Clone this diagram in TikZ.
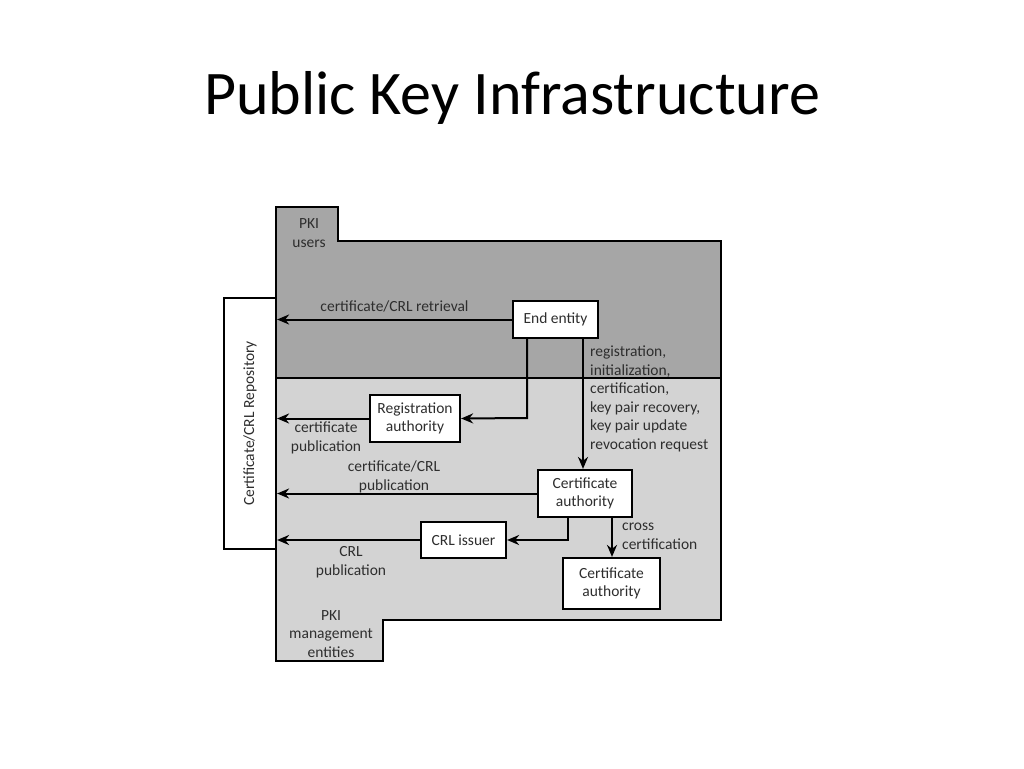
\documentclass[tikz,border=0pt]{standalone}
\usepackage{fontspec}
\setmainfont{Carlito}
\usetikzlibrary{arrows.meta}
\definecolor{darkreg}{HTML}{A6A6A6}
\definecolor{lightreg}{HTML}{D3D3D3}
\definecolor{txt}{HTML}{2E2E2E}
\begin{document}
\begin{tikzpicture}[x=1pt,y=-1pt,
  line/.style={line width=2.2pt,draw=black},
  conn/.style={line width=2pt,-{Stealth[length=12pt,width=10pt]}},
  entity/.style={draw=black,line width=2.2pt,fill=white,inner sep=0pt,align=center,font=\fontsize{15.5}{18.5}\selectfont,text=txt},
  lbl/.style={font=\fontsize{15.5}{18.5}\selectfont,text=txt,inner sep=0pt}]
\useasboundingbox (0,0) rectangle (1024,768);
\node[font=\fontsize{62}{66}\selectfont,text=black] (title) at (512,98) {Public Key Infrastructure};
% regions
\path[fill=lightreg,line,line join=miter] (276,378) -- (721,378) -- (721,620) -- (383,620) -- (383,661) -- (276,661) -- cycle;
\path[fill=darkreg,line,line join=miter] (276,207) -- (338,207) -- (338,241) -- (721,241) -- (721,378) -- (276,378) -- cycle;
% repository
\node[entity,minimum width=52pt,minimum height=251pt] (repo) at (250,423.5) {};
\node[lbl,rotate=90] (repotxt) at (250,423.5) {Certificate/CRL Repository};
% entities
\node[entity,minimum width=85pt,minimum height=37pt] (ee) at (555.5,319.5) {End entity};
\node[entity,minimum width=90pt,minimum height=47pt] (ra) at (415,418.5) {Registration\\authority};
\node[entity,minimum width=94pt,minimum height=47pt] (ca) at (585,493.5) {Certificate\\authority};
\node[entity,minimum width=85pt,minimum height=36pt] (crl) at (463.5,540) {CRL issuer};
\node[entity,minimum width=97pt,minimum height=51pt] (ca2) at (611.5,583.5) {Certificate\\authority};
% labels
\node[lbl,align=center] (pu) at (309,233) {PKI\\users};
\node[lbl,align=center] (pm) at (331,634) {PKI\\management\\entities};
% connectors
\draw[conn] (ee.west) -- (ee.west -| repo.east) node[lbl,midway,above=6pt] {certificate/CRL retrieval};
\draw[conn] (ee.south -| 527,0) -- (527,418) -- (ra.east);
\draw[conn] (ee.south -| 583,0) -- (ca.north -| 583,0);
\node[lbl,anchor=north west,align=left] (regtxt) at (590,346) {registration,\\initialization,\\certification,\\key pair recovery,\\key pair update\\revocation request};
\draw[conn] (ra.west) -- (ra.west -| repo.east);
\node[lbl,align=center] (cptxt) at (326,438) {certificate\\publication};
\draw[conn] (ca.west) -- (ca.west -| repo.east);
\node[lbl,align=center] (ccptxt) at (394,477) {certificate/CRL\\publication};
\draw[conn] (ca.south -| 568,0) -- (568,540) -- (crl.east);
\draw[conn] (ca.south -| 612,0) -- (ca2.north -| 612,0);
\node[lbl,anchor=north west,align=left] (crosstxt) at (622,523) {cross\\certification};
\draw[conn] (crl.west) -- (crl.west -| repo.east);
\node[lbl,align=center] (crlptxt) at (351,562) {CRL\\publication};
\end{tikzpicture}
\end{document}
